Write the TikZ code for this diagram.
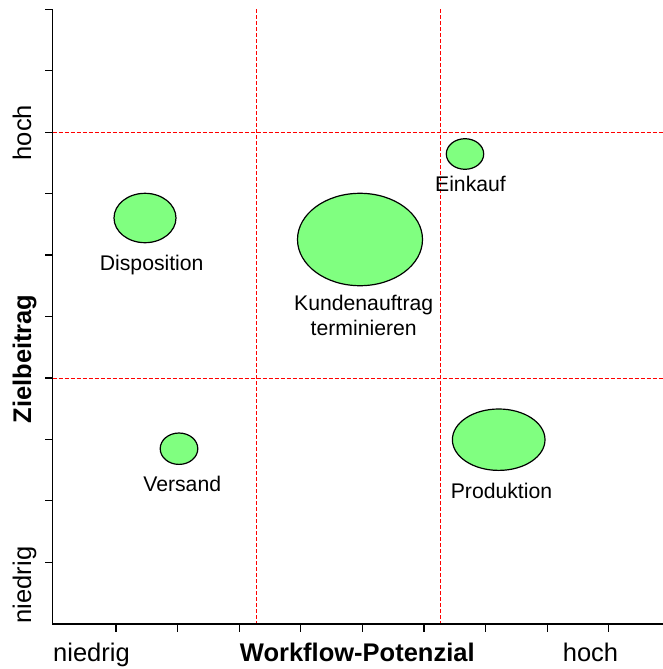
\documentclass[tikz,border=0pt]{standalone}
\usepackage{fontspec}
\setmainfont{Liberation Sans}
\usetikzlibrary{shapes.geometric}
\definecolor{bubblegreen}{HTML}{80FF80}
\begin{document}
\begin{tikzpicture}[x=1pt,y=-1pt,
  axisline/.style={line width=1.3pt, black},
  tickline/.style={line width=1.3pt, black},
  gridline/.style={red, line width=1.2pt, dash pattern=on 4pt off 2pt},
  bubble/.style={ellipse, draw=black, line width=1.2pt, fill=bubblegreen, inner sep=0pt},
  lbl/.style={font=\fontsize{21.2}{24.5}\selectfont, anchor=base, inner sep=0pt},
  axlbl/.style={font=\fontsize{25.5}{28}\selectfont, anchor=base, inner sep=0pt},
]
\useasboundingbox (0,0) rectangle (663,669);
% coordinates
\coordinate (ytop) at (52.5,9.3);
\coordinate (O) at (52.5,624);
\coordinate (xend) at (663,624);
\coordinate (h1a) at (52.5,132.5);
\coordinate (h1b) at (663,132.5);
\coordinate (h2a) at (52.5,378.5);
\coordinate (h2b) at (663,378.5);
\coordinate (v1a) at (256.5,9.3);
\coordinate (v1b) at (256.5,624);
\coordinate (v2a) at (440.5,9.3);
\coordinate (v2b) at (440.5,624);
% red dashed quadrant lines
\draw[gridline] (h1a) -- (h1b);
\draw[gridline] (h2a) -- (h2b);
\draw[gridline] (v1a) -- (v1b);
\draw[gridline] (v2a) -- (v2b);
% axes
\draw[axisline] (ytop) -- (O) -- (xend);
\foreach \k in {0,...,9}
  \draw[tickline] (45,{9.3+61.44*\k}) -- (52.5,{9.3+61.44*\k});
\foreach \k in {0,...,8}
  \draw[tickline] ({116+61.6*\k},624) -- ({116+61.6*\k},632);
% bubbles
\node[bubble, minimum width=37.4pt, minimum height=30.6pt] (einkauf) at (465,154) {};
\node[bubble, minimum width=62pt, minimum height=49.4pt] (disposition) at (145,218) {};
\node[bubble, minimum width=125pt, minimum height=92.4pt] (kunden) at (360,239.5) {};
\node[bubble, minimum width=37.6pt, minimum height=31.4pt] (versand) at (179,448.7) {};
\node[bubble, minimum width=92.6pt, minimum height=61.4pt] (produktion) at (498.7,439.7) {};
% labels
\node[lbl] (leinkauf) at (470.5,191.5) {Einkauf};
\node[lbl] (ldisposition) at (151.7,270.7) {Disposition};
\node[lbl] (lkunden1) at (363.7,310.5) {Kundenauftrag};
\node[lbl] (lkunden2) at (363.7,335) {terminieren};
\node[lbl] (lversand) at (182.2,491.7) {Versand};
\node[lbl] (lproduktion) at (501.5,498) {Produktion};
% axis labels
\node[axlbl] (xlow) at (91.5,661) {niedrig};
\node[axlbl, font=\fontsize{25.5}{28}\selectfont\bfseries] (xtitle) at (357.3,661) {Workflow-Potenzial};
\node[axlbl] (xhigh) at (590.5,661) {hoch};
\node[axlbl, rotate=90] (yhigh) at (31,132.7) {hoch};
\node[axlbl, rotate=90, font=\fontsize{25.5}{28}\selectfont\bfseries] (ytitle) at (31,359) {Zielbeitrag};
\node[axlbl, rotate=90] (ylow) at (31,585) {niedrig};
\end{tikzpicture}
\end{document}
